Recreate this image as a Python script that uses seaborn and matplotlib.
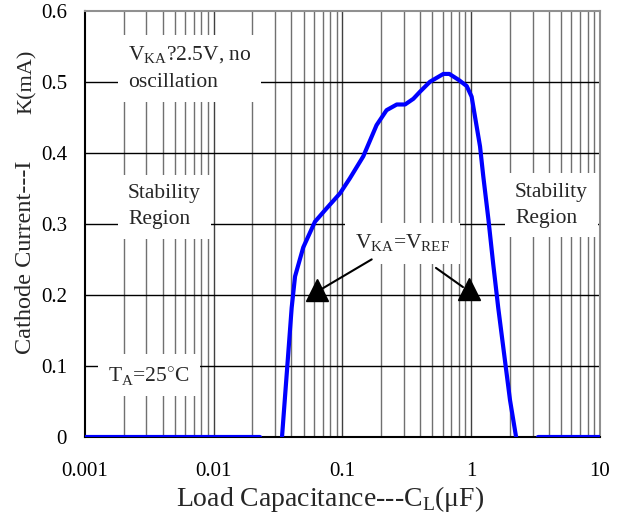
import numpy as np
import pandas as pd
import matplotlib
matplotlib.use("Agg")
import matplotlib.pyplot as plt
import seaborn as sns

# values (x in uF, y in mA)
cap_left = [0.001, 0.0229]
cur_left = [0.0, 0.0]

cap_curve = [0.0339, 0.0403, 0.0428, 0.0496, 0.0611, 0.0754, 0.0957, 0.114, 0.145,
             0.184, 0.220, 0.264, 0.306, 0.355, 0.400, 0.478, 0.607, 0.676, 0.793,
             0.922, 1.007, 1.17, 1.24, 1.36, 1.48, 1.62, 2.0, 2.23]
cur_curve = [0.0, 0.182, 0.226, 0.267, 0.303, 0.322, 0.343, 0.364, 0.395,
             0.439, 0.460, 0.468, 0.468, 0.476, 0.486, 0.500, 0.511, 0.511, 0.503,
             0.494, 0.479, 0.409, 0.367, 0.306, 0.244, 0.182, 0.052, 0.0]

cap_right = [3.30, 10.0]
cur_right = [0.0, 0.0]

xticks = [0.001, 0.01, 0.1, 1, 10]
xtick_labels = ["0.001", "0.01", "0.1", "1", "10"]
yticks = [0, 0.1, 0.2, 0.3, 0.4, 0.5, 0.6]
ytick_labels = ["0", "0.1", "0.2", "0.3", "0.4", "0.5", "0.6"]

sns.set_style("white")
plt.rcParams['font.family'] = ['Liberation Serif', 'DejaVu Serif']
plt.rcParams['mathtext.fontset'] = 'custom'
plt.rcParams['mathtext.rm'] = 'Liberation Serif'

fig = plt.figure(figsize=(6.19, 5.17), dpi=100)
ax = fig.add_axes([0.1373, 0.1547, 0.832, 0.8246])

blue = "#0000ff"
for xs, ys in [(cap_left, cur_left), (cap_curve, cur_curve), (cap_right, cur_right)]:
    df = pd.DataFrame({"C": xs, "I": ys})
    sns.lineplot(data=df, x="C", y="I", ax=ax, color=blue, linewidth=3,
                 sort=False, zorder=5)

ax.set_xscale("log")
ax.set_xlim(0.001, 10)
ax.set_ylim(0, 0.6)
ax.set_xticks(xticks)
ax.set_xticklabels(xtick_labels)
ax.set_yticks(yticks)
ax.set_yticklabels(ytick_labels)
ax.minorticks_off()

# grid: minor verticals grey, decades and horizontals black
for d in [0.001, 0.01, 0.1, 1]:
    for m in range(2, 10):
        ax.axvline(d * m, color="#707070", lw=1, zorder=1)
for d in [0.01, 0.1, 1]:
    ax.axvline(d, color="#404040", lw=1, zorder=1)
for y in yticks[1:-1]:
    ax.axhline(y, color="black", lw=1, zorder=1)

ax.tick_params(axis="both", direction="in", length=5, width=1.5, labelsize=15,
               colors="black")
ax.tick_params(axis="x", pad=18)
ax.tick_params(axis="y", pad=13)
ax.set_xlabel("")
ax.set_ylabel("")
for s in ["left", "bottom"]:
    ax.spines[s].set_color("black")
    ax.spines[s].set_linewidth(1.5)
for s in ["top", "right"]:
    ax.spines[s].set_color("#909090")
    ax.spines[s].set_linewidth(1.5)

box = dict(boxstyle="square,pad=0.45", facecolor="white", edgecolor="none")
fs = 15.5
ax.text(0.0835, 0.864, "V$_{\\mathrm{KA}}$?2.5V, no\noscillation", transform=ax.transAxes,
        fontsize=fs, va="center", ha="left", bbox=box, zorder=3, linespacing=1.5)
ax.text(0.0835, 0.540, "Stability\nRegion", transform=ax.transAxes,
        fontsize=fs, va="center", ha="left", bbox=box, zorder=3, linespacing=1.5)
ax.text(0.835, 0.544, "Stability\nRegion", transform=ax.transAxes,
        fontsize=fs, va="center", ha="left", bbox=box, zorder=3, linespacing=1.5)
ax.text(0.524, 0.455, "V$_{\\mathrm{KA}}$=V$_{\\mathrm{REF}}$", transform=ax.transAxes,
        fontsize=fs, va="center", ha="left", bbox=box, zorder=3)
ax.text(0.0447, 0.145, "T$_{\\mathrm{A}}$=25$^{\\circ}$C", transform=ax.transAxes,
        fontsize=fs, va="center", ha="left", bbox=box, zorder=3)

# arrows: plain line ending at an upright triangle
ax.plot([0.1686, 0.0669], [0.250, 0.207], color="black", lw=1.5, zorder=4)
ax.plot([0.532, 0.863], [0.238, 0.211], color="black", lw=1.5, zorder=4)
ax.plot([0.0631, 0.961], [0.207, 0.208], marker="^", markersize=16, color="black",
        linestyle="none", zorder=6)

fig.text(330 / 619, (517 - 499) / 517, "Load Capacitance---C$_{\\mathrm{L}}$(\u03bcF)",
         fontsize=20, ha="center", va="center")
fig.text(26 / 619, 0.503, "Cathode Current---I", fontsize=17.5, rotation=90,
         ha="center", va="center")
fig.text(27 / 619, 0.842, "K(mA)", fontsize=16, rotation=90, ha="center", va="center")

fig.savefig("out.png", dpi=100)
